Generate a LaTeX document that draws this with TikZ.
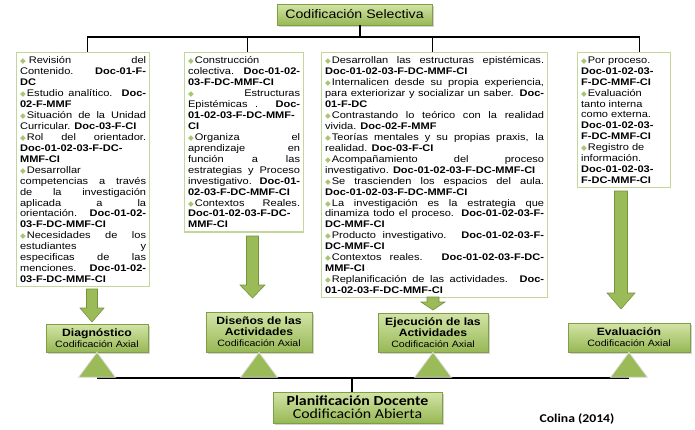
\documentclass[tikz,border=0pt]{standalone}
\usepackage{fontspec}
\setmainfont{Liberation Sans}[FakeStretch=1.15]
\newfontfamily\calfont{Carlito}[FakeStretch=1.15]
\newfontfamily\symfont{DejaVu Sans}
\usetikzlibrary{calc,shadows}

\definecolor{boxedge}{HTML}{C3D69B}
\definecolor{greentop}{HTML}{D3E4A6}
\definecolor{greenbot}{HTML}{97B855}
\definecolor{greenedge}{HTML}{7F9E45}
\definecolor{arrowgreen}{HTML}{9BBB59}
\definecolor{arrowedge}{HTML}{76923C}
\definecolor{bulletgreen}{HTML}{A9C573}

\def\dia{{\symfont\fontsize{7.5}{7.5}\selectfont\color{bulletgreen}◆}\kern1pt\relax}
\def\axial{{\mdseries\fontsize{9.2}{11}\selectfont Codificación Axial}}
\def\boxsetup{\fontsize{9.6}{10.95}\selectfont\tolerance=10000\relax\hbadness=10000\relax
	\hyphenpenalty=10000\relax\exhyphenpenalty=10000\relax\parindent=0pt\relax}
\newcommand{\fatarrow}[5]{\filldraw[fatarrow] let \p1=(#1), \p2=(#2) in
	(\x1-#3,\y1) -- (\x1+#3,\y1) -- (\x1+#3,\y2+#5) -- (\x1+#4,\y2+#5)
	-- (\x1,\y2) -- (\x1-#4,\y2+#5) -- (\x1-#3,\y2+#5) -- cycle;}

\tikzset{
	link/.style={line width=1.2pt, black},
	groundline/.style={line width=1.8pt, black},
	textbox/.style={draw=boxedge, line width=1.2pt, fill=white, anchor=north west,
		inner xsep=3.5pt, inner ysep=4pt, align=justify, font=\boxsetup},
	greenbox/.style={draw=greenedge, line width=0.6pt, top color=greentop, bottom color=greenbot,
		drop shadow={shadow xshift=1.5pt, shadow yshift=-1.5pt, opacity=0.35},
		align=center, inner sep=1pt, font=\bfseries\fontsize{10.6}{11}\selectfont},
	fatarrow/.style={fill=arrowgreen, draw=arrowedge, line width=0.6pt},
	basetri/.style={fill=arrowgreen, draw=black!12, line width=0.8pt}
}

\begin{document}
\begin{tikzpicture}[x=1pt, y=-1pt]
			%%%%% START %%%%%
			\useasboundingbox (0,0) rectangle (695,429);
			
			\node[greenbox, minimum width=155, minimum height=21, font=\fontsize{12.3}{14}\selectfont] (sel) at (354.5,14.5) {Codificación Selectiva};
			
			\node[textbox, text width=126] (box1) at (16,52) {%
				\dia\hspace{2pt}Revisión del\linebreak Contenido. \textbf{Doc-01-F-}\linebreak\textbf{DC}\par
				\dia Estudio analítico. \textbf{Doc-}\linebreak\textbf{02-F-MMF}\par
				\dia Situación de la Unidad\linebreak Curricular. \textbf{Doc-03-F-CI}\par
				\dia Rol del orientador.\linebreak\textbf{Doc-01-02-03-F-DC-}\linebreak\textbf{MMF-CI}\par
				\dia Desarrollar\linebreak competencias a través\linebreak de la investigación\linebreak aplicada a la\linebreak orientación. \textbf{Doc-01-02-}\linebreak\textbf{03-F-DC-MMF-CI}\par
				\dia Necesidades de los\linebreak estudiantes y\linebreak especificas de las\linebreak menciones. \textbf{Doc-01-02-}\linebreak\textbf{03-F-DC-MMF-CI}};
			
			\node[textbox, text width=112] (box2) at (184,52) {%
				\dia Construcción\linebreak colectiva. \textbf{Doc-01-02-}\linebreak\textbf{03-F-DC-MMF-CI}\par
				\dia{} Estructuras\linebreak Epistémicas . \textbf{Doc-}\linebreak\textbf{01-02-03-F-DC-MMF-}\linebreak\textbf{CI}\par
				\dia Organiza el\linebreak aprendizaje en\linebreak función a las\linebreak estrategias y Proceso\linebreak investigativo. \textbf{Doc-01-}\linebreak\textbf{02-03-F-DC-MMF-CI}\par
				\dia Contextos Reales.\linebreak\textbf{Doc-01-02-03-F-DC-}\linebreak\textbf{MMF-CI}};
			
			\node[textbox, text width=219] (box3) at (321,52) {%
				\dia Desarrollan las estructuras epistémicas.\linebreak\textbf{Doc-01-02-03-F-DC-MMF-CI}\par
				\dia Internalicen desde su propia experiencia,\linebreak para exteriorizar y socializar un saber. \textbf{Doc-}\linebreak\textbf{01-F-DC}\par
				\dia Contrastando lo teórico con la realidad\linebreak vivida. \textbf{Doc-02-F-MMF}\par
				\dia Teorías mentales y su propias praxis, la\linebreak realidad. \textbf{Doc-03-F-CI}\par
				\dia Acompañamiento del proceso\linebreak investigativo. \textbf{Doc-01-02-03-F-DC-MMF-CI}\par
				\dia Se trascienden los espacios del aula.\linebreak\textbf{Doc-01-02-03-F-DC-MMF-CI}\par
				\dia La investigación es la estrategia que\linebreak dinamiza todo el proceso. \textbf{Doc-01-02-03-F-}\linebreak\textbf{DC-MMF-CI}\par
				\dia Producto investigativo. \textbf{Doc-01-02-03-F-}\linebreak\textbf{DC-MMF-CI}\par
				\dia Contextos reales. \textbf{Doc-01-02-03-F-DC-}\linebreak\textbf{MMF-CI}\par
				\dia Replanificación de las actividades. \textbf{Doc-}\linebreak\textbf{01-02-03-F-DC-MMF-CI}};
			
			\node[textbox, text width=86] (box4) at (577,52) {%
				\raggedright
				\dia Por proceso.\newline\textbf{Doc-01-02-03-}\newline\textbf{F-DC-MMF-CI}\par
				\dia Evaluación\newline tanto interna\newline como externa.\newline\textbf{Doc-01-02-03-}\newline\textbf{F-DC-MMF-CI}\par
				\dia Registro de\newline información.\newline\textbf{Doc-01-02-03-}\newline\textbf{F-DC-MMF-CI}};
			
			% tree from the top box
			\coordinate (bus) at (0,37);
			\draw[link] ([xshift=5.5]sel.south) -- ([xshift=5.5]sel.south |- bus);
			\draw[link] ([xshift=4.5]box1.north) -- ([xshift=4.5]box1.north |- bus) -- ([xshift=15.5]box4.north |- bus) -- ([xshift=15.5]box4.north);
			\draw[link] ([xshift=3.5]box2.north) -- ([xshift=3.5]box2.north |- bus);
			\draw[link] ([xshift=-2]box3.north) -- ([xshift=-2]box3.north |- bus);
			
			\node[greenbox, minimum width=102, minimum height=28] (diag) at (97,338) {Diagnóstico\\ \axial};
			\node[greenbox, minimum width=106, minimum height=40] (dis) at (259,332) {Diseños de las\\ Actividades\\ \axial};
			\node[greenbox, minimum width=110, minimum height=39] (eje) at (433,332.5) {Ejecución de las\\ Actividades\\ \axial};
			\node[greenbox, minimum width=122, minimum height=29] (eval) at (629,337.5) {Evaluación\\ \axial};
			
			% block arrows
			\coordinate (a1s) at (92,289);   \coordinate (a1e) at (92,322);
			\coordinate (a2s) at (252.5,236); \coordinate (a2e) at (252.5,298);
			\coordinate (a3s) at (433,297);  \coordinate (a3e) at (433,310);
			\coordinate (a4s) at (621,191);  \coordinate (a4e) at (621,309);
			\fatarrow{a1s}{a1e}{5.5pt}{12pt}{14pt}
			\fatarrow{a2s}{a2e}{6pt}{12.5pt}{13pt}
			\fatarrow{a3s}{a3e}{6pt}{12pt}{8pt}
			\fatarrow{a4s}{a4e}{6.5pt}{14pt}{16pt}
			
			% ground line and triangles
			\coordinate (g1) at ($(diag.south)+(0,25.5)$);
			\coordinate (g4) at ($(eval.south)+(0,25.5)$);
			\draw[groundline] (g1) -- (g4);
			\foreach \n in {diag,dis,eje,eval}
				\filldraw[basetri] (\n.south) -- ++(-18.5,25) -- ++(37,0) -- cycle;
			
			\node[greenbox, minimum width=169, minimum height=31, font=\calfont\fontsize{13.8}{13}\selectfont] (plan) at (357.5,407.5) {\bfseries Planificación Docente\\ Codificación Abierta};
			\draw[link] ([xshift=-5.5]plan.north) -- ([xshift=-5.5]plan.north |- g1);
			
			\node[font=\calfont\bfseries\fontsize{11.9}{14}\selectfont] (colina) at (577,419) {Colina (2014)};
			%%%%% END %%%%%
\end{tikzpicture}
\end{document}
